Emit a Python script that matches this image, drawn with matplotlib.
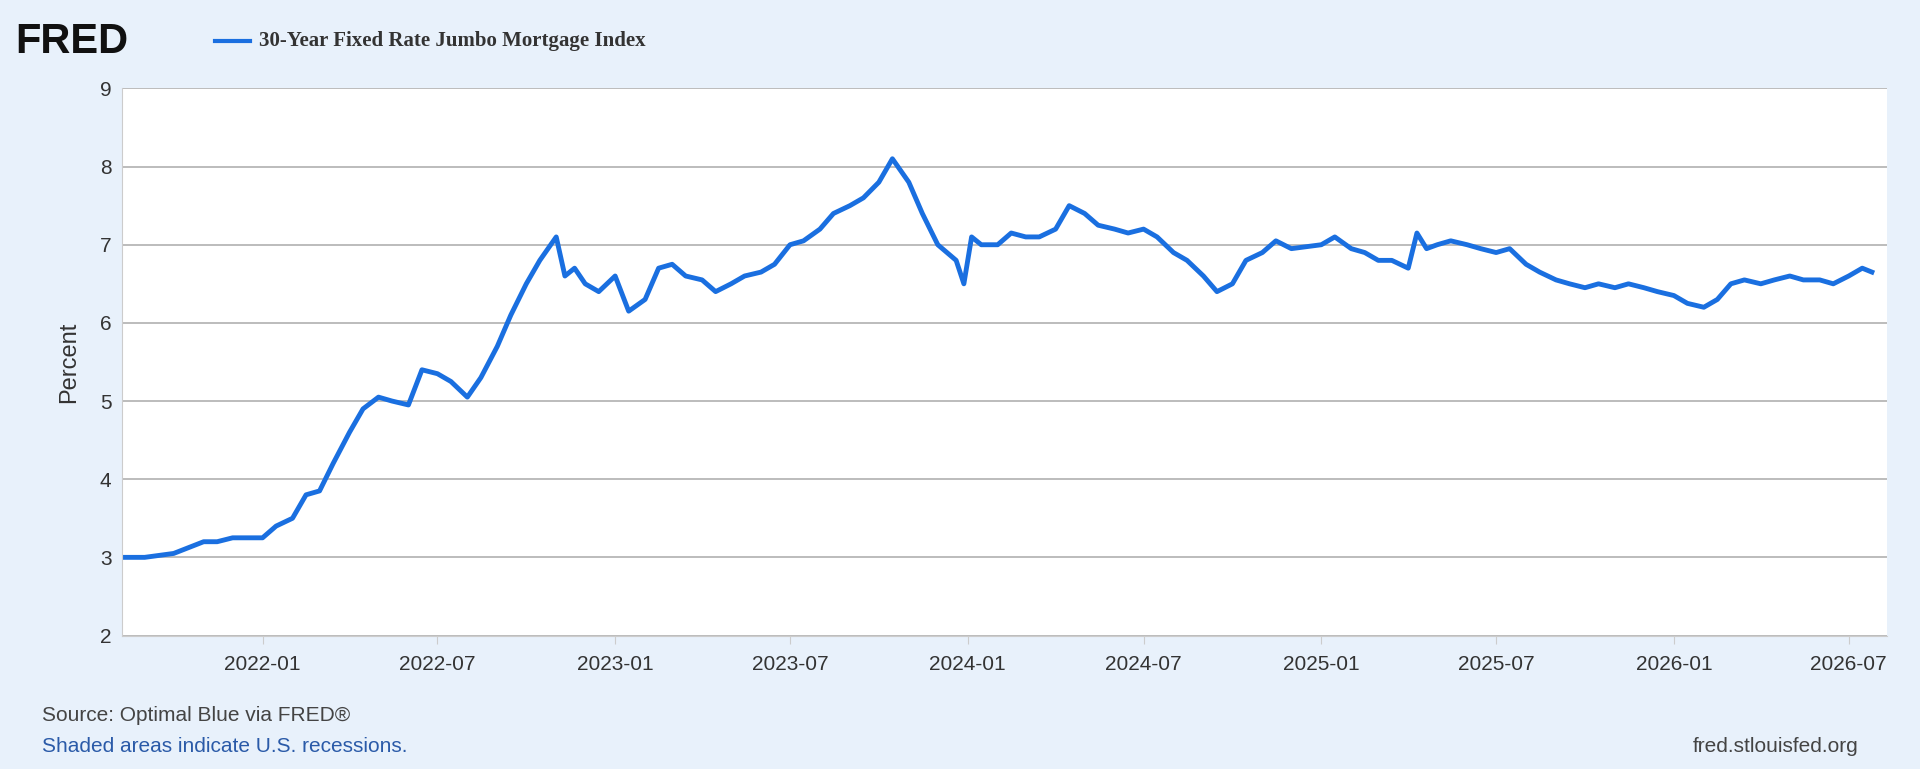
import matplotlib
matplotlib.use("Agg")
import matplotlib.pyplot as plt
import matplotlib.dates as mdates
import pandas as pd

plt.rcParams['font.family'] = ['Liberation Sans', 'DejaVu Sans']

dates = ["2021-08-10","2021-09-01","2021-10-01","2021-11-01","2021-11-15","2021-12-01",
 "2022-01-01","2022-01-15","2022-02-01","2022-02-15","2022-03-01","2022-03-15","2022-04-01",
 "2022-04-15","2022-05-01","2022-05-15","2022-06-01","2022-06-15","2022-07-01","2022-07-15",
 "2022-08-01","2022-08-15","2022-09-01","2022-09-15","2022-10-01","2022-10-15","2022-11-01",
 "2022-11-10","2022-11-20","2022-12-01","2022-12-15","2023-01-01","2023-01-15","2023-02-01",
 "2023-02-15","2023-03-01","2023-03-15","2023-04-01","2023-04-15","2023-05-01","2023-05-15",
 "2023-06-01","2023-06-15","2023-07-01","2023-07-15","2023-08-01","2023-08-15","2023-09-01",
 "2023-09-15","2023-10-01","2023-10-15","2023-11-01","2023-11-15","2023-12-01","2023-12-20",
 "2023-12-28","2024-01-05","2024-01-15","2024-02-01","2024-02-15","2024-03-01","2024-03-15",
 "2024-04-01","2024-04-15","2024-05-01","2024-05-15","2024-06-01","2024-06-15","2024-07-01",
 "2024-07-15","2024-08-01","2024-08-15","2024-09-01","2024-09-15","2024-10-01","2024-10-15",
 "2024-11-01","2024-11-15","2024-12-01","2025-01-01","2025-01-15","2025-02-01","2025-02-15",
 "2025-03-01","2025-03-15","2025-04-01","2025-04-10","2025-04-20","2025-05-01","2025-05-15",
 "2025-06-01","2025-06-15","2025-07-01","2025-07-15","2025-08-01","2025-08-15","2025-09-01",
 "2025-09-15","2025-10-01","2025-10-15","2025-11-01","2025-11-15","2025-12-01","2025-12-15",
 "2026-01-01","2026-01-15","2026-02-01","2026-02-15","2026-03-01","2026-03-15","2026-04-01",
 "2026-04-15","2026-05-01","2026-05-15","2026-06-01","2026-06-15","2026-07-01","2026-07-15",
 "2026-07-25"]
rates = [3.0,3.0,3.05,3.2,3.2,3.25,
 3.25,3.4,3.5,3.8,3.85,4.2,4.6,
 4.9,5.05,5.0,4.95,5.4,5.35,5.25,
 5.05,5.3,5.7,6.1,6.5,6.8,7.1,
 6.6,6.7,6.5,6.4,6.6,6.15,6.3,
 6.7,6.75,6.6,6.55,6.4,6.5,6.6,
 6.65,6.75,7.0,7.05,7.2,7.4,7.5,
 7.6,7.8,8.1,7.8,7.4,7.0,6.8,
 6.5,7.1,7.0,7.0,7.15,7.1,7.1,
 7.2,7.5,7.4,7.25,7.2,7.15,7.2,
 7.1,6.9,6.8,6.6,6.4,6.5,6.8,
 6.9,7.05,6.95,7.0,7.1,6.95,6.9,
 6.8,6.8,6.7,7.15,6.95,7.0,7.05,
 7.0,6.95,6.9,6.95,6.75,6.65,6.55,
 6.5,6.45,6.5,6.45,6.5,6.45,6.4,
 6.35,6.25,6.2,6.3,6.5,6.55,6.5,
 6.55,6.6,6.55,6.55,6.5,6.6,6.7,
 6.65]

bg = "#e8f1fb"
fig = plt.figure(figsize=(19.2, 7.69), dpi=100, facecolor=bg)
ax = fig.add_axes([0.0638, 0.1736, 0.9192, 0.7114])
ax.set_facecolor("white")
ax.plot(pd.to_datetime(dates), rates, color="#1a6fe0", lw=3.5)
ax.set_ylim(2, 9)
ax.set_xlim(pd.Timestamp("2021-08-09"), pd.Timestamp("2026-08-10"))
ax.xaxis.set_major_locator(mdates.MonthLocator(bymonth=[1, 7]))
ax.xaxis.set_major_formatter(mdates.DateFormatter("%Y-%m"))
ax.yaxis.grid(True, color="#b0b0b0", lw=1.2)
for s in ["top", "right"]:
    ax.spines[s].set_visible(False)
ax.spines["left"].set_color("#cccccc")
ax.spines["bottom"].set_color("#cccccc")
ax.tick_params(axis="both", labelsize=15, colors="#333333", length=0, pad=8)
ax.tick_params(axis="x", length=6, color="#cccccc")
ax.set_ylabel("Percent", fontsize=17, color="#333333", labelpad=14)

fig.text(0.008, 0.945, "FRED", fontsize=30, fontweight="bold", color="#111111", va="center")
fig.lines.append(plt.Line2D([0.112, 0.13], [0.947, 0.947], transform=fig.transFigure,
                            color="#1a6fe0", lw=3))
fig.text(0.135, 0.947, "30-Year Fixed Rate Jumbo Mortgage Index", fontsize=15,
         fontweight="bold", family="Liberation Serif", color="#333333", va="center")
fig.text(0.022, 0.062, "Source: Optimal Blue via FRED®", fontsize=15, color="#444444")
fig.text(0.022, 0.022, "Shaded areas indicate U.S. recessions.", fontsize=15, color="#2a5aa8")
fig.text(0.968, 0.022, "fred.stlouisfed.org", fontsize=15, color="#444444", ha="right")

fig.savefig("out.png", facecolor=bg)
